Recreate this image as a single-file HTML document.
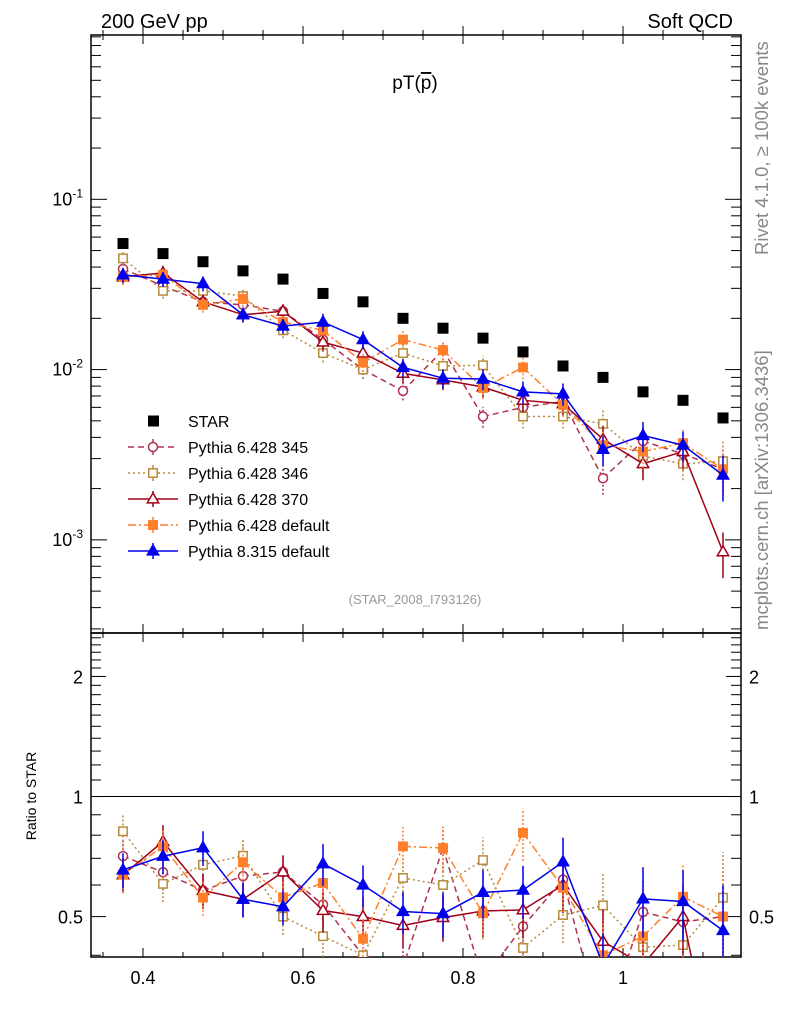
<!DOCTYPE html>
<html><head><meta charset="utf-8"><style>
html,body{margin:0;padding:0;background:#fff;overflow:hidden;width:786px;height:1024px;}
svg{display:block;font-family:"Liberation Sans",sans-serif;}
</style></head><body>
<svg id="chart" width="786" height="1024" viewBox="0 0 786 1024">
<defs>
<clipPath id="cm"><rect x="91" y="35" width="650" height="598"/></clipPath>
<clipPath id="cr"><rect x="91" y="633" width="650" height="324"/></clipPath>
</defs>
<text x="101" y="28" font-size="20">200 GeV pp</text>
<text x="733" y="28" font-size="20" text-anchor="end">Soft QCD</text>
<text x="415" y="89" font-size="19" text-anchor="middle">pT(<tspan text-decoration="overline">p</tspan>)</text>
<text x="415" y="604" font-size="13" fill="#999" text-anchor="middle">(STAR_2008_I793126)</text>
<text transform="translate(768,255) rotate(-90)" font-size="18.5" fill="#888">Rivet 4.1.0, ≥ 100k events</text>
<text transform="translate(768,630) rotate(-90)" font-size="18.5" fill="#888">mcplots.cern.ch [arXiv:1306.3436]</text>
<text transform="translate(36,796) rotate(-90)" font-size="14" text-anchor="middle">Ratio to STAR</text>
<g id="axes"></g>
<g id="series-main" clip-path="url(#cm)"></g>
<g id="series-ratio" clip-path="url(#cr)"></g>
<g id="legend"></g>
</svg>
<script>
const xCenters=[0.375,0.425,0.475,0.525,0.575,0.625,0.675,0.725,0.775,0.825,0.875,0.925,0.975,1.025,1.075,1.125];
const starVals=[0.055,0.048,0.043,0.038,0.034,0.028,0.025,0.020,0.0175,0.0153,0.0127,0.0105,0.009,0.0074,0.0066,0.0052];
const py345=[0.039,0.031,0.025,0.024,0.022,0.015,0.010,0.0075,0.0130,0.0053,0.0060,0.0065,0.0023,0.0038,0.0032,0.0026];
const py346=[0.045,0.029,0.029,0.027,0.017,0.0125,0.0100,0.0125,0.0105,0.0106,0.0053,0.0053,0.0048,0.0031,0.0028,0.0029];
const py370=[0.035,0.037,0.025,0.021,0.022,0.0145,0.0125,0.0095,0.0087,0.0079,0.0066,0.0063,0.0039,0.0028,0.0033,0.00085];
const py6def=[0.035,0.036,0.024,0.026,0.019,0.017,0.011,0.015,0.013,0.0078,0.0103,0.0062,0.0036,0.0033,0.0037,0.0026];
const py8def=[0.036,0.034,0.032,0.021,0.018,0.019,0.015,0.0103,0.0089,0.0088,0.0074,0.0072,0.0034,0.0041,0.0036,0.0024];
const relErr=[0.1,0.1,0.1,0.1,0.1,0.12,0.12,0.12,0.13,0.14,0.15,0.15,0.2,0.2,0.2,0.3];
const xTicks=[0.4,0.6,0.8,1.0];
const xTickLabels=["0.4","0.6","0.8","1"];

const NS="http://www.w3.org/2000/svg";
const X0=91,X1=741,MT=35,MB=633,RB=957;
const xMin=0.335,xMax=1.1475;
const lMin=-3.547,lMax=-0.035;
const rMin=Math.log2(0.396),rMax=Math.log2(2.57);
const sx=v=>X0+(v-xMin)/(xMax-xMin)*(X1-X0);
const sy=v=>MB-(Math.log10(v)-lMin)/(lMax-lMin)*(MB-MT);
const sr=v=>RB-(Math.log2(v)-rMin)/(rMax-rMin)*(RB-MB);
function mk(tag,attrs,parent){const e=document.createElementNS(NS,tag);for(const k in attrs)e.setAttribute(k,attrs[k]);parent.appendChild(e);return e;}
// clip a segment to vertical band [ya,yb]; returns null if outside
function clipSeg(x1,y1,x2,y2,ya,yb){
 if((y1<ya&&y2<ya)||(y1>yb&&y2>yb))return null;
 const f=(y)=>x1+(x2-x1)*(y-y1)/(y2-y1);
 if(y1<ya){x1=f(ya);y1=ya;}else if(y1>yb){x1=f(yb);y1=yb;}
 if(y2<ya){x2=x1+(x2-x1)*0+ (function(){return 0;})();}
 return [x1,y1,x2,y2];}
function drawLine(g,pts,ya,yb,attrs){
 for(let i=0;i<pts.length-1;i++){let [ax,ay]=pts[i],[bx,by]=pts[i+1];
  if((ay<ya&&by<ya)||(ay>yb&&by>yb))continue;
  const fx=(y)=>ax+(bx-ax)*(y-ay)/(by-ay);
  let x1=ax,y1=ay,x2=bx,y2=by;
  if(ay<ya){x1=fx(ya);y1=ya;}else if(ay>yb){x1=fx(yb);y1=yb;}
  if(by<ya){x2=fx(ya);y2=ya;}else if(by>yb){x2=fx(yb);y2=yb;}
  const l=mk('line',Object.assign({x1:x1,y1:y1,x2:x2,y2:y2},attrs),g);}}
const clampY=(y,ya,yb)=>Math.max(ya,Math.min(yb,y));

const ax=document.getElementById('axes');
mk('rect',{x:X0,y:MT,width:X1-X0,height:MB-MT,fill:'none',stroke:'#000','stroke-width':1.5},ax);
mk('rect',{x:X0,y:MB,width:X1-X0,height:RB-MB,fill:'none',stroke:'#000','stroke-width':1.5},ax);
for(let d=-4;d<=0;d++){for(let m=1;m<10;m++){const v=m*Math.pow(10,d);const y=sy(v);if(y<MT||y>MB)continue;const L=m==1?16:10;
mk('line',{x1:X0,y1:y,x2:X0+L,y2:y,stroke:'#000'},ax);mk('line',{x1:X1,y1:y,x2:X1-L,y2:y,stroke:'#000'},ax);
if(m==1){const t=mk('text',{x:X0-8,y:y+6,'font-size':18,'text-anchor':'end'},ax);t.innerHTML='10<tspan dy="-8" font-size="12">'+d+'</tspan>';}}}
for(let k=4;k<=25;k++){const v=k/10;const y=sr(v);if(y<MB||y>RB)continue;const big=(k==5||k==10||k==20);const L=big?15:10;
mk('line',{x1:X0,y1:y,x2:X0+L,y2:y,stroke:'#000'},ax);mk('line',{x1:X1,y1:y,x2:X1-L,y2:y,stroke:'#000'},ax);
if(big){const lab=k==5?'0.5':String(v);const t=mk('text',{x:X0-8,y:y+7,'font-size':18,'text-anchor':'end'},ax);t.textContent=lab;
const t2=mk('text',{x:X1+8,y:y+7,'font-size':18},ax);t2.textContent=lab;}}
mk('line',{x1:X0,y1:sr(1),x2:X1,y2:sr(1),stroke:'#000'},ax);
for(let i=7;i<=22;i++){const v=i*0.05;const x=sx(v);if(x<X0||x>X1)continue;const maj=(i%4==0);const L=maj?9:5;
[MT,MB,RB].forEach(yy=>{mk('line',{x1:x,y1:yy,x2:x,y2:yy-L,stroke:'#000'},ax);});
[MT,MB].forEach(yy=>{mk('line',{x1:x,y1:yy,x2:x,y2:yy+L,stroke:'#000'},ax);});}
xTicks.forEach((v,i)=>{const t=mk('text',{x:sx(v),y:RB+27,'font-size':18,'text-anchor':'middle'},ax);t.textContent=xTickLabels[i];});

const series=[
{name:'Pythia 6.428 345',vals:py345,color:'#b03050',dash:'6,4',marker:'circle',fill:false},
{name:'Pythia 6.428 346',vals:py346,color:'#b88a3c',dash:'2,3',marker:'square',fill:false},
{name:'Pythia 6.428 370',vals:py370,color:'#a00018',dash:'',marker:'triangle',fill:false},
{name:'Pythia 6.428 default',vals:py6def,color:'#ff7f2a',dash:'8,3,2,3',marker:'square',fill:true},
{name:'Pythia 8.315 default',vals:py8def,color:'#0000ee',dash:'',marker:'triangle',fill:true}];
function marker(g,type,x,y,c,fill,s){let e;
if(type=='circle')e=mk('circle',{cx:x,cy:y,r:s*0.75},g);
else if(type=='square')e=mk('rect',{x:x-s*0.7,y:y-s*0.7,width:s*1.4,height:s*1.4},g);
else e=mk('path',{d:`M${x},${y-s} L${x+s*0.95},${y+s*0.65} L${x-s*0.95},${y+s*0.65} Z`},g);
e.setAttribute('fill',fill?c:'#fff');e.setAttribute('stroke',c);e.setAttribute('stroke-width',1.5);return e;}
const gm=document.getElementById('series-main'),gr=document.getElementById('series-ratio');
series.forEach((s,si)=>{
 const g=mk('g',{},gm);
 const g2=mk('g',{},gr);
 const la={stroke:s.color,'stroke-width':1.5,'stroke-dasharray':s.dash};
 drawLine(g,xCenters.map((x,i)=>[sx(x),sy(s.vals[i])]),MT-2,MB+2,la);
 drawLine(g2,xCenters.map((x,i)=>[sx(x),sr(s.vals[i]/starVals[i])]),MB-2,RB+2,la);
 const ea={stroke:s.color,'stroke-width':1.5,'stroke-dasharray':s.dash?'2,2':''};
 xCenters.forEach((x,i)=>{const v=s.vals[i],e=relErr[i]*v,r=v/starVals[i],re=relErr[i]*r;
  drawLine(g,[[sx(x),sy(v-e)],[sx(x)+0.001,sy(v+e)]],MT,MB,ea);
  const yv=sy(v); if(yv>MT-8&&yv<MB+8) marker(g,s.marker,sx(x),yv,s.color,s.fill,6);
  drawLine(g2,[[sx(x),sr(r-re)],[sx(x)+0.001,sr(r+re)]],MB,RB,ea);
  const yr=sr(r); if(yr>MB-8&&yr<RB+8) marker(g2,s.marker,sx(x),yr,s.color,s.fill,6);});
});
const gs=mk('g',{},gm);
xCenters.forEach((x,i)=>{mk('rect',{x:sx(x)-5.5,y:sy(starVals[i])-5.5,width:11,height:11,fill:'#000'},gs);});
const lg=document.getElementById('legend');
const ly0=421,ldy=26;
const e0=mk('g',{},lg);
mk('rect',{x:148,y:ly0-5.5,width:11,height:11,fill:'#000'},e0);
const t0=mk('text',{x:188,y:ly0+6,'font-size':16},e0);t0.textContent='STAR';
series.forEach((s,i)=>{const y=ly0+ldy*(i+1);const e=mk('g',{},lg);
 
 mk('line',{x1:128,y1:y,x2:178,y2:y,stroke:s.color,'stroke-width':1.5,'stroke-dasharray':s.dash},e);
 mk('line',{x1:153,y1:y-8,x2:153,y2:y+8,stroke:s.color,'stroke-width':1.5},e);
 marker(e,s.marker,153,y,s.color,s.fill,6);
 const t=mk('text',{x:188,y:y+6,'font-size':16},e);t.textContent=s.name;});
</script>
</body></html>
